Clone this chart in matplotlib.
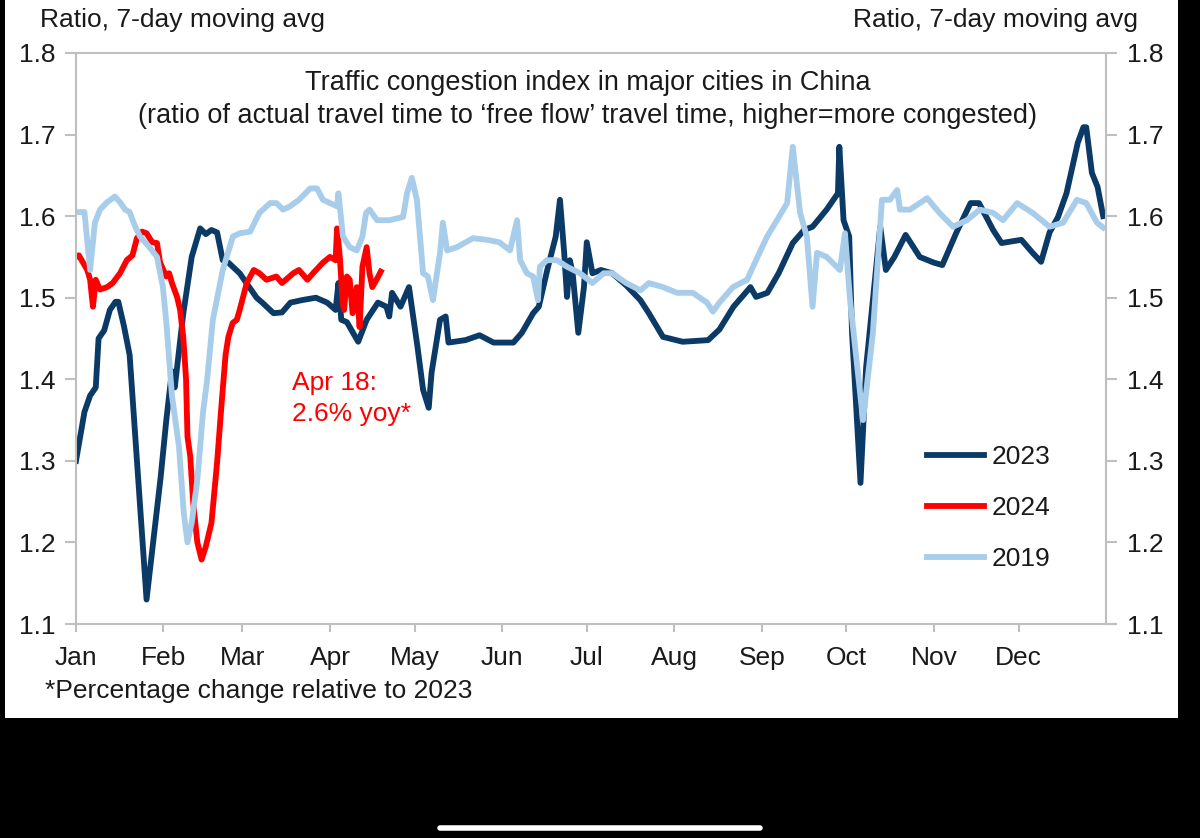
#!/usr/bin/env python3
"""
Traffic congestion index in major cities in China (2023, 2024, 2019)
"""
import numpy as np
import matplotlib
matplotlib.use("Agg")
import matplotlib.pyplot as plt
from matplotlib.patches import Rectangle
from matplotlib.lines import Line2D

# Day of year (0 = Jan 1) and ratio
days_2023 = [0, 3, 5, 7, 8, 10, 12, 14, 15, 17, 19, 22, 25, 30, 32, 34, 35,
             38, 41, 44, 46, 48, 50, 52, 54, 58, 62, 64, 66, 70, 73, 76, 80,
             85, 89, 92, 93, 94, 96, 100, 103, 107, 110, 111, 112, 115, 118,
             121, 123, 125, 126, 129, 131, 132, 138, 143, 148, 155, 158, 162,
             164, 167, 170, 171.5, 173, 174, 175, 176, 178, 180, 181, 183,
             186, 190, 195, 200, 203, 208, 215, 224, 228, 233, 239, 241, 245,
             249, 254, 258, 261, 266, 270, 270.5, 272, 274, 275, 278, 280,
             285, 287, 290, 294, 299, 304, 307, 312, 317, 320, 325, 328, 335,
             339, 342, 345, 348, 351, 355, 357, 358, 360, 362, 364]
ratio_2023 = [1.30, 1.36, 1.38, 1.39, 1.45, 1.46, 1.485, 1.495, 1.495, 1.465,
              1.43, 1.28, 1.13, 1.28, 1.35, 1.41, 1.39, 1.48, 1.55, 1.585,
              1.578, 1.583, 1.58, 1.546, 1.543, 1.53, 1.51, 1.50, 1.494,
              1.481, 1.482, 1.494, 1.497, 1.50, 1.494, 1.485, 1.518, 1.473,
              1.47, 1.446, 1.473, 1.494, 1.489, 1.477, 1.506, 1.489, 1.513,
              1.44, 1.387, 1.365, 1.408, 1.473, 1.477, 1.445, 1.448, 1.454,
              1.445, 1.445, 1.457, 1.481, 1.489, 1.534, 1.575, 1.62, 1.555,
              1.501, 1.546, 1.53, 1.457, 1.513, 1.568, 1.53, 1.534, 1.53,
              1.515, 1.497, 1.481, 1.452, 1.446, 1.448, 1.461, 1.489, 1.513,
              1.501, 1.506, 1.53, 1.567, 1.583, 1.587, 1.608, 1.628, 1.685,
              1.595, 1.575, 1.457, 1.273, 1.415, 1.587, 1.534, 1.55, 1.577,
              1.55, 1.543, 1.54, 1.58, 1.616, 1.616, 1.583, 1.567, 1.571,
              1.555, 1.544, 1.58, 1.599, 1.628, 1.69, 1.709, 1.709, 1.653,
              1.636, 1.60]

days_2024 = [0, 1, 4, 5, 6, 7, 8.5, 11, 13, 15.6, 18, 20, 21.6, 23.4, 25, 27,
             28.7, 29.8, 32, 33, 34, 35.8, 36.9, 38, 39, 39.5, 40.5, 41.5, 43,
             44.5, 46, 48, 50, 51.5, 53, 54, 55.5, 57, 58, 60.5, 63, 65, 67.5,
             71, 73, 77, 79, 82, 84, 87.5, 90, 92, 92.5, 93.5, 94.5, 95, 96,
             97, 98, 99.5, 100.5, 101.5, 103, 104, 105, 106.5, 108]
ratio_2024 = [1.55, 1.552, 1.534, 1.522, 1.489, 1.522, 1.51, 1.513, 1.518,
              1.53, 1.546, 1.552, 1.573, 1.581, 1.579, 1.568, 1.567, 1.543,
              1.526, 1.53, 1.518, 1.501, 1.485, 1.452, 1.40, 1.33, 1.305,
              1.25, 1.20, 1.179, 1.195, 1.224, 1.298, 1.366, 1.43, 1.452,
              1.469, 1.473, 1.485, 1.518, 1.534, 1.53, 1.522, 1.526, 1.518,
              1.53, 1.534, 1.522, 1.53, 1.543, 1.55, 1.546, 1.585, 1.55,
              1.494, 1.485, 1.526, 1.522, 1.481, 1.513, 1.464, 1.538, 1.562,
              1.53, 1.513, 1.522, 1.532]

days_2019 = [0, 3, 5, 6.7, 8.5, 11, 13.8, 15.6, 17.4, 19, 21, 22.7, 26, 28.7,
             30.8, 32, 34, 36.5, 38.2, 39.5, 41, 43, 45, 46.5, 48.5, 52, 55.6,
             58, 61.7, 65, 68.8, 71, 73.4, 75.8, 79, 83, 85.4, 87.5, 90, 92.5,
             93, 94.6, 97, 99.5, 101.5, 102.8, 104, 106.7, 111, 115.9, 117.3,
             119, 120.8, 123, 124.7, 126.5, 129, 130, 131.5, 135, 140.7,
             145.6, 150, 153.8, 156.3, 157.4, 159.8, 162, 163.7, 164.4, 166.9,
             170.4, 174, 178.6, 183, 187, 190, 195, 200, 203, 208, 213, 218.6,
             223.6, 225.7, 228, 232.8, 237.8, 241, 244.9, 248.4, 252, 254,
             256.6, 259, 261, 262.6, 266, 270.7, 272.5, 274.3, 278.9, 282.4,
             285.6, 288.4, 291, 292, 295.5, 301.6, 306, 310.8, 315.7, 320.3,
             325, 328.5, 333.5, 339, 345, 349.8, 354.7, 358, 361.8, 364]
ratio_2019 = [1.605, 1.605, 1.534, 1.592, 1.608, 1.617, 1.624, 1.617, 1.608,
              1.605, 1.587, 1.575, 1.562, 1.55, 1.513, 1.47, 1.38, 1.317,
              1.236, 1.20, 1.224, 1.277, 1.359, 1.40, 1.473, 1.534, 1.575,
              1.579, 1.581, 1.604, 1.616, 1.616, 1.608, 1.612, 1.62, 1.634,
              1.634, 1.62, 1.616, 1.612, 1.628, 1.575, 1.562, 1.558, 1.575,
              1.604, 1.608, 1.595, 1.595, 1.599, 1.628, 1.647, 1.62, 1.53,
              1.526, 1.497, 1.555, 1.592, 1.558, 1.562, 1.573, 1.571, 1.568,
              1.558, 1.595, 1.546, 1.53, 1.526, 1.497, 1.538, 1.546, 1.546,
              1.538, 1.53, 1.518, 1.53, 1.53, 1.518, 1.509, 1.518, 1.513,
              1.506, 1.506, 1.494, 1.483, 1.494, 1.513, 1.522, 1.546, 1.575,
              1.595, 1.616, 1.685, 1.604, 1.575, 1.489, 1.555, 1.55, 1.534,
              1.579, 1.497, 1.35, 1.457, 1.62, 1.62, 1.632, 1.608, 1.608,
              1.622, 1.604, 1.587, 1.595, 1.608, 1.604, 1.595, 1.616, 1.604,
              1.587, 1.592, 1.62, 1.616, 1.592, 1.586]

month_starts = [0, 31, 59, 90, 120, 151, 181, 212, 243, 273, 304, 334]
month_labels = ["Jan", "Feb", "Mar", "Apr", "May", "Jun",
                "Jul", "Aug", "Sep", "Oct", "Nov", "Dec"]
y_ticks = [1.1, 1.2, 1.3, 1.4, 1.5, 1.6, 1.7, 1.8]

NAVY = "#0B3A67"
RED = "#FF0000"
LIGHT = "#A8CDEB"
TEXT = "#1A1A1A"
W, H = 1200, 838


def px(x, y):
    """pixel position (from top-left) to figure fraction"""
    return x / W, 1 - y / H


def main():
    plt.rcParams["font.family"] = ["Liberation Sans", "DejaVu Sans"]
    plt.rcParams["font.size"] = 19

    fig = plt.figure(figsize=(W / 100, H / 100), dpi=100, facecolor="black")

    # white card of the screenshot, kept behind the axes
    fig.patches.append(Rectangle(px(5, 718), 1173 / W, 718 / H,
                                 transform=fig.transFigure,
                                 facecolor="white", zorder=-10))

    left, top = px(76, 53)
    right, bottom = px(1106, 624)
    ax = fig.add_axes([left, bottom, right - left, top - bottom])
    ax.set_zorder(1)

    # 2019 is drawn last so it sits on top, as in the original
    ax.plot(days_2023, ratio_2023, color=NAVY, lw=4.2, label="2023")
    ax.plot(days_2024, ratio_2024, color=RED, lw=4.2, label="2024")
    ax.plot(days_2019, ratio_2019, color=LIGHT, lw=4.2, label="2019")

    ax.set_xlim(0, 365)
    ax.set_ylim(1.1, 1.8)
    ax.set_xticks(month_starts)
    ax.set_xticklabels(month_labels)
    ax.set_yticks(y_ticks)
    ax.set_yticklabels([f"{t:.1f}" for t in y_ticks])

    for sp in ax.spines.values():
        sp.set_color("#BFBFBF")
        sp.set_linewidth(1.5)
    ax.tick_params(axis="y", length=8, width=1.5, color="#BFBFBF",
                   pad=7, labelcolor=TEXT)
    ax.tick_params(axis="x", length=6, width=1.5, color="#BFBFBF",
                   pad=10, labelcolor=TEXT)

    # right hand axis with the same scale
    ax2 = ax.twinx()
    ax2.set_ylim(1.1, 1.8)
    ax2.set_yticks(y_ticks)
    ax2.set_yticklabels([f"{t:.1f}" for t in y_ticks])
    ax2.tick_params(axis="y", length=8, width=1.5, color="#BFBFBF",
                    pad=7, labelcolor=TEXT)
    for sp in ax2.spines.values():
        sp.set_visible(False)

    # axis captions, title and notes
    fig.text(*px(40, 20), "Ratio, 7-day moving avg", ha="left",
             va="center", color=TEXT)
    fig.text(*px(1138, 20), "Ratio, 7-day moving avg", ha="right",
             va="center", color=TEXT)
    fig.text(*px(588, 83), "Traffic congestion index in major cities in China",
             ha="center", va="center", color=TEXT, fontsize=19.5)
    fig.text(*px(588, 116),
             "(ratio of actual travel time to \u2018free flow\u2019 travel time, "
             "higher=more congested)", ha="center", va="center", color=TEXT,
             fontsize=19.5)
    fig.text(*px(292, 383), "Apr 18:", ha="left", va="center", color=RED)
    fig.text(*px(292, 414), "2.6% yoy*", ha="left", va="center", color=RED)
    fig.text(*px(45, 691), "*Percentage change relative to 2023",
             ha="left", va="center", color=TEXT)

    # legend at the lower right
    ax.legend(loc="center left", bbox_to_anchor=px(914, 508),
              bbox_transform=fig.transFigure, frameon=False, borderpad=0,
              handlelength=2.15, handletextpad=0.3, labelspacing=1.02,
              fontsize=19, labelcolor=TEXT)

    # phone home indicator
    fig.add_artist(Line2D([440 / W, 760 / W], [px(0, 828)[1]] * 2,
                          transform=fig.transFigure, color="white", lw=4,
                          solid_capstyle="round"))

    fig.savefig("out.png", dpi=100, facecolor=fig.get_facecolor())


if __name__ == "__main__":
    main()
